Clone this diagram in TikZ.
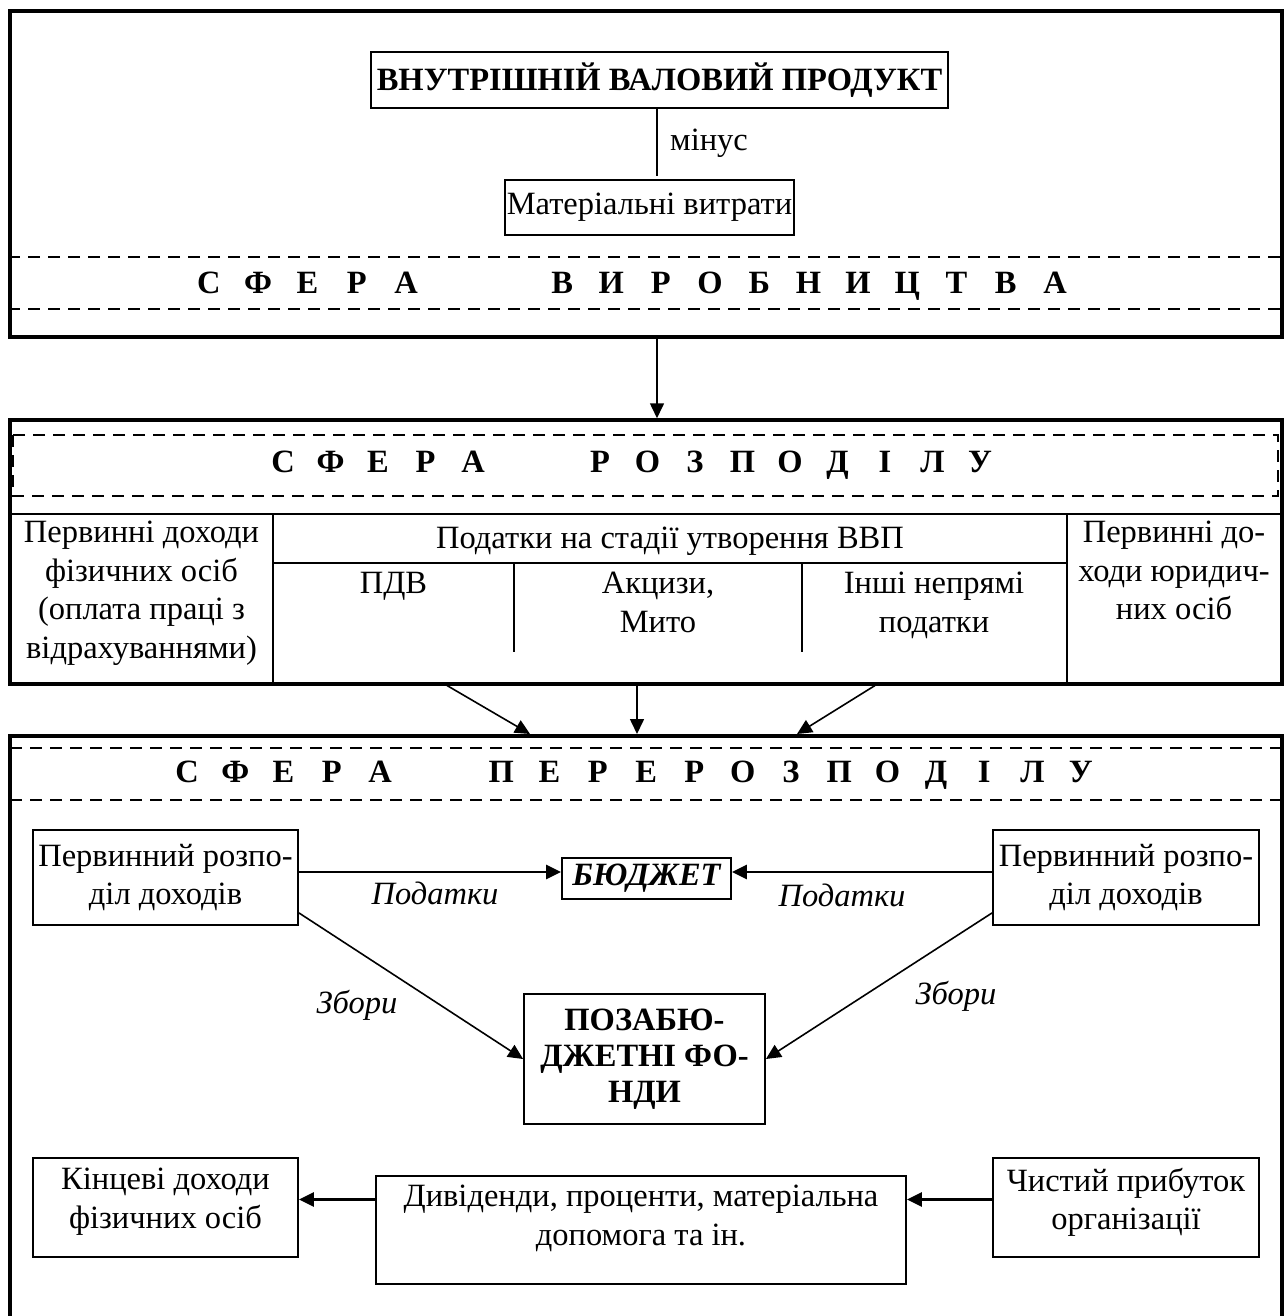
\documentclass[tikz,border=0pt]{standalone}
\usepackage{fontspec}
\setmainfont{Liberation Serif}
\usetikzlibrary{arrows.meta,calc}

% letter-spaced headings: every letter sits in a box of width \ltrw
\newlength\ltrw
\def\spreadword#1{\spreadaux#1\relax}
\def\spreadaux#1{\ifx#1\relax\else\makebox[\ltrw][c]{#1}\expandafter\spreadaux\fi}

\begin{document}
\begin{tikzpicture}[x=1pt,y=-1pt,
  frame/.style={draw,line width=3.5pt},
  box/.style={draw,line width=1.8pt,inner sep=0pt,align=center,
              font=\fontsize{32.5}{38.5}\selectfont},
  sepline/.style={line width=1.8pt},
  thinsep/.style={line width=1.3pt},
  dashline/.style={line width=1.8pt,dash pattern=on 12pt off 8pt},
  txt/.style={inner sep=0pt,align=center,font=\fontsize{32.5}{38.5}\selectfont},
  itxt/.style={inner sep=0pt,font=\itshape\fontsize{32.5}{38.5}\selectfont},
  heading/.style={inner sep=0pt,text height=21pt,text depth=0pt,
                  font=\bfseries\fontsize{32.5}{38.5}\selectfont},
  arr/.style={-{Triangle[length=15pt,width=14pt]},line width=1.6pt},
  heavyarr/.style={-{Triangle[length=15pt,width=14pt]},line width=2.8pt}]

\useasboundingbox (0,0) rectangle (1287,1316);

% ---------------- production sphere ----------------
\node[frame,minimum width=1272,minimum height=326] (prod) at (646,174) {};
\node[box,font=\bfseries\fontsize{32.5}{38.5}\selectfont,
      minimum width=577,minimum height=56] (gdp) at (659.5,80)
      {ВНУТРІШНІЙ ВАЛОВИЙ ПРОДУКТ};
\node[box,minimum width=289,minimum height=55] (mat) at (649.5,207.5)
      {Матеріальні витрати};
\coordinate (minusTop) at ($(gdp.south)+(-2.5,0)$);
\coordinate (minusEnd) at ($(minusTop)+(0,67)$);
\draw[thinsep] (minusTop) -- (minusEnd);
\node[txt,anchor=west] (minus) at ($(minusTop)+(13,34)$) {мінус};

\draw[dashline] (prod.west |- 0,257) -- (prod.east |- 0,257);
\draw[dashline] (prod.west |- 0,309) -- (prod.east |- 0,309);
\node[heading] (prodTitle) at (632,283)
  {\setlength\ltrw{49.3pt}\spreadword{СФЕРА}\hspace{106.7pt}\spreadword{ВИРОБНИЦТВА}};

% ---------------- distribution sphere ----------------
\node[frame,minimum width=1272,minimum height=264] (dist) at (646,552) {};
\draw[-{Triangle[length=15pt,width=14pt]},line width=1.6pt]
  (minusTop |- prod.south) -- (minusTop |- dist.north);

\draw[dashline] (13,435) rectangle (1278,496);
\node[heading] (distTitle) at (631.5,462)
  {\setlength\ltrw{47.5pt}\spreadword{СФЕРА}\hspace{79.5pt}\spreadword{РОЗПОДІЛУ}};

\draw[sepline] (dist.west |- 0,514) -- (dist.east |- 0,514);
\draw[sepline] (273,514) -- (273 ,683);
\draw[sepline] (1067,514) -- (1067,683);
\draw[thinsep] (273,563) -- (1067,563);
\draw[thinsep] (514,563) -- (514,652);
\draw[thinsep] (802,563) -- (802,652);

\node[txt,anchor=north] (persons) at (141.5,521)
  {Первинні доходи\\фізичних осіб\\(оплата праці з\\відрахуваннями)};
\node[txt,anchor=base] (taxes) at (670,548)
  {Податки на стадії утворення ВВП};
\node[txt,anchor=north] (vat) at (393.5,572) {ПДВ};
\node[txt,anchor=north] (excise) at (658,572) {Акцизи,\\Мито};
\node[txt,anchor=north] (indirect) at (934,572) {Інші непрямі\\податки};
\node[txt,anchor=north] (firms) at (1174,521)
  {Первинні до-\\ходи юридич-\\них осіб};

% ---------------- redistribution sphere ----------------
\coordinate (rdNW) at (10,736);
\coordinate (rdNE) at (1282,736);
\draw[frame] (10,1330) -- (rdNW) -- (rdNE) -- (1282,1330);

\coordinate (a1s) at (447,685.5);
\coordinate (a1e) at (530,734);
\coordinate (a2s) at (637,685.5);
\coordinate (a2e) at (637,734);
\coordinate (a3s) at (875,685.5);
\coordinate (a3e) at (797,734);
\draw[arr] (a1s) -- (a1e);
\draw[arr] (a2s) -- (a2e);
\draw[arr] (a3s) -- (a3e);

\draw[dashline] (10,748) -- (1282,748);
\draw[dashline] (10,800) -- (1282,800);
\node[heading] (redTitle) at (633.9,772)
  {\setlength\ltrw{48.3pt}\spreadword{СФЕРА}\hspace{72.7pt}\spreadword{ПЕРЕРОЗПОДІЛУ}};

\node[box,minimum width=265,minimum height=95] (lp) at (165.5,877.5)
  {Первинний розпо-\\діл доходів};
\node[box,minimum width=266,minimum height=95] (rp) at (1126,877.5)
  {Первинний розпо-\\діл доходів};
\node[box,font=\bfseries\itshape\fontsize{32.5}{38.5}\selectfont,
      minimum width=169,minimum height=41] (budget) at (646.5,878.5) {БЮДЖЕТ};
\node[box,font=\bfseries\fontsize{32.5}{36}\selectfont,
      minimum width=241,minimum height=130] (funds) at (644.5,1059)
  {ПОЗАБЮ-\\ДЖЕТНІ ФО-\\НДИ};

\coordinate (taxL) at ($(lp.east)+(0,-5.5)$);
\coordinate (taxR) at ($(rp.west)+(0,-5.5)$);
\draw[heavyarr] (taxL) -- (taxL -| budget.west);
\draw[heavyarr] (taxR) -- (taxR -| budget.east);
\node[itxt] (taxLabelL) at (435,893) {Податки};
\node[itxt] (taxLabelR) at (842,895) {Податки};

\coordinate (feeL) at ($(lp.south east)+(0,-13)$);
\coordinate (feeR) at ($(rp.south west)+(0,-13)$);
\draw[arr] (feeL) -- (funds.west);
\draw[arr] (feeR) -- (funds.east);
\node[itxt] (feeLabelL) at (357,1005) {Збори};
\node[itxt] (feeLabelR) at (956,996) {Збори};

\node[draw,line width=1.8pt,minimum width=265,minimum height=99] (finalInc) at (165.5,1207.5) {};
\node[txt,anchor=north] (finalTxt) at (165.5,1168) {Кінцеві доходи\\фізичних осіб};
\node[draw,line width=1.8pt,minimum width=530,minimum height=108] (divid) at (641,1230) {};
\node[txt,anchor=north] (dividTxt) at (641,1185)
  {Дивіденди, проценти, матеріальна\\допомога та ін.};
\node[draw,line width=1.8pt,minimum width=266,minimum height=99] (profit) at (1126,1207.5) {};
\node[txt,anchor=north] (profitTxt) at (1126,1168) {Чистий прибуток\\організації};

\coordinate (flowY) at ($(finalInc.east)+(0,-8)$);
\draw[heavyarr] (flowY -| divid.west) -- (flowY);
\draw[heavyarr] (flowY -| profit.west) -- (flowY -| divid.east);

\end{tikzpicture}
\end{document}
